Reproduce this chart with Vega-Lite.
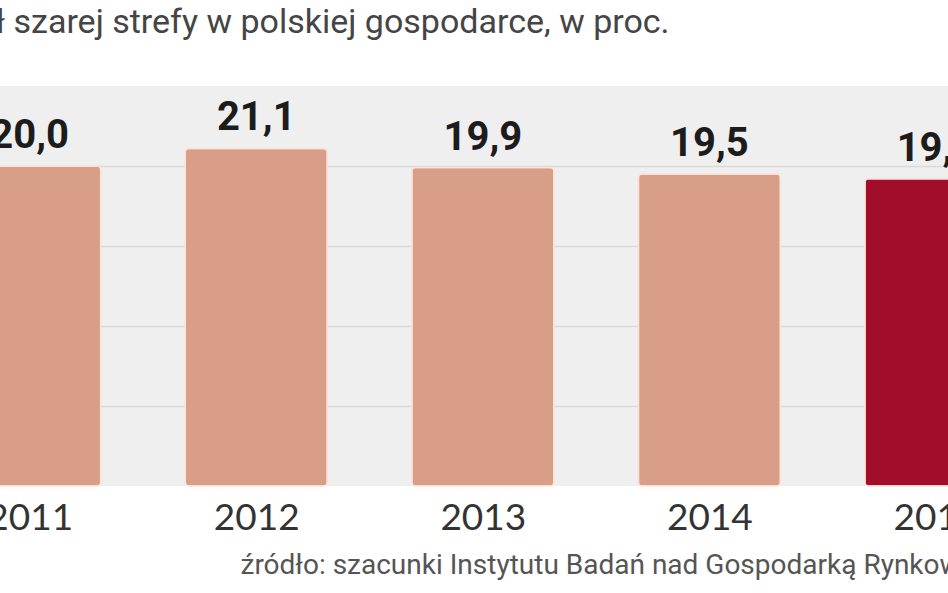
{
  "$schema": "https://vega.github.io/schema/vega-lite/v6.json",
  "width": 948,
  "height": 400,
  "autosize": {"type": "none"},
  "padding": {"left": 0, "right": 0, "top": 86, "bottom": 107},
  "background": "white",
  "config": {
    "view": {"fill": "#efefef", "stroke": null},
    "locale": {"number": {"decimal": ",", "thousands": "\u00a0", "grouping": [3], "currency": ["", " zł"]}}
  },
  "title": {
    "text": "Udział szarej strefy w polskiej gospodarce, w proc.",
    "anchor": "start",
    "frame": "group",
    "dx": -89,
    "offset": 19,
    "baseline": "alphabetic",
    "font": "Roboto",
    "fontSize": 34,
    "fontWeight": "normal",
    "color": "#454545"
  },
  "data": {
    "values": [
      {"rok": 2011, "udzial": 20.0},
      {"rok": 2012, "udzial": 21.1},
      {"rok": 2013, "udzial": 19.9},
      {"rok": 2014, "udzial": 19.5},
      {"rok": 2015, "udzial": 19.2}
    ]
  },
  "encoding": {
    "x": {
      "field": "rok",
      "type": "quantitative",
      "scale": {"domain": [2010.891, 2015.031], "nice": false, "zero": false},
      "axis": {
        "values": [2011, 2012, 2013, 2014, 2015],
        "format": "d",
        "domain": false,
        "ticks": false,
        "grid": false,
        "labelFlush": false,
        "labelOverlap": false,
        "labelBound": false,
        "labelFont": "Lato",
        "labelFontSize": 37,
        "labelColor": "#333333",
        "labelBaseline": "alphabetic",
        "labelPadding": 43,
        "title": "źródło: szacunki Instytutu Badań nad Gospodarką Rynkową",
        "titleFont": "Roboto",
        "titleFontSize": 28,
        "titleFontWeight": "normal",
        "titleColor": "#555555",
        "titleAlign": "left",
        "titleAnchor": "start",
        "titleBaseline": "alphabetic",
        "titleX": 240,
        "titleY": 87
      }
    },
    "y": {
      "field": "udzial",
      "type": "quantitative",
      "scale": {"domain": [0, 25], "nice": false},
      "axis": {
        "values": [5, 10, 15, 20],
        "domain": false,
        "ticks": false,
        "labels": false,
        "title": null,
        "grid": true,
        "gridColor": "#d9d9d9",
        "gridWidth": 1.5
      }
    }
  },
  "layer": [
    {
      "mark": {"type": "bar", "size": 142, "cornerRadius": 4, "stroke": "#fbe3d9", "strokeWidth": 1.5},
      "encoding": {
        "color": {"condition": {"test": "datum.rok === 2015", "value": "#a30d2c"}, "value": "#d89e87"}
      }
    },
    {
      "mark": {"type": "text", "baseline": "alphabetic", "dy": -18, "font": "Roboto", "fontWeight": "bold", "fontSize": 40, "color": "#1c1c1c"},
      "encoding": {
        "text": {"field": "udzial", "type": "quantitative", "format": ".1f"}
      }
    }
  ]
}
